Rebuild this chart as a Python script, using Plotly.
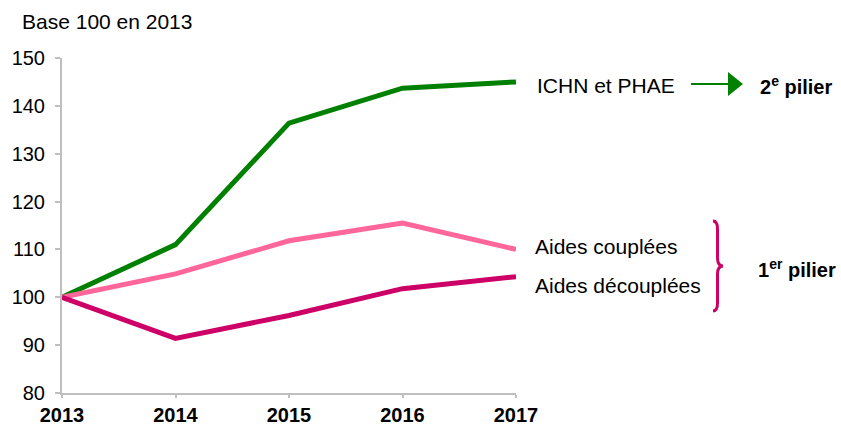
import plotly.graph_objects as go

years = [2013, 2014, 2015, 2016, 2017]
ichn_phae = [100, 111.0, 136.4, 143.7, 145.0]
aides_couplees = [100, 104.9, 111.8, 115.5, 110.0]
aides_decouplees = [100, 91.4, 96.2, 101.8, 104.3]

y_ticks = [80, 90, 100, 110, 120, 130, 140, 150]
x_labels = ["2013", "2014", "2015", "2016", "2017"]

GREEN = "#008000"
PINK = "#FF6699"
MAGENTA = "#CC0066"
AXIS = "#BFBFBF"
FONT = "Liberation Sans, Arial, sans-serif"

W, H = 841, 425
L, R, T, B = 62, 516, 58, 393  # plot area in pixels


def px(x):
    return (x - L) / (R - L)


def py(y):
    return (B - y) / (B - T)


fig = go.Figure()
for name, vals, col in [
    ("ICHN et PHAE", ichn_phae, GREEN),
    ("Aides couplées", aides_couplees, PINK),
    ("Aides découplées", aides_decouplees, MAGENTA),
]:
    fig.add_trace(go.Scatter(x=years, y=vals, mode="lines", name=name,
                             line=dict(color=col, width=5), hoverinfo="skip"))

fig.update_layout(
    width=W, height=H,
    margin=dict(l=L, r=W - R, t=T, b=H - B, pad=0),
    paper_bgcolor="white", plot_bgcolor="white",
    showlegend=False,
    font=dict(family=FONT, size=21, color="#000000"),
)
fig.update_xaxes(range=[2013, 2017], tickvals=years, ticktext=[f"<b>{t}</b>" for t in x_labels],
                 ticks="outside", ticklen=3, tickcolor=AXIS, tickwidth=2,
                 showline=True, linecolor=AXIS, linewidth=2, showgrid=False, zeroline=False,
                 tickfont=dict(size=20), automargin=False, fixedrange=True)
fig.update_yaxes(range=[80, 150], tickvals=y_ticks,
                 ticks="outside", ticklen=5, tickcolor=AXIS, tickwidth=2,
                 showline=True, linecolor=AXIS, linewidth=2, showgrid=False, zeroline=False,
                 tickfont=dict(size=20), ticklabelstandoff=6, automargin=False, fixedrange=True)

ann = []
ann.append(dict(x=px(21), y=py(21), text="Base 100 en 2013"))
ann.append(dict(x=px(536), y=py(85), text="ICHN et PHAE"))
ann.append(dict(x=px(534), y=py(247), text="Aides couplées"))
ann.append(dict(x=px(534), y=py(285), text="Aides découplées"))
ann.append(dict(x=px(759), y=py(85), text="<b>2<sup>e</sup> pilier</b>", font=dict(size=20)))
ann.append(dict(x=px(757), y=py(268), text="<b>1<sup>er</sup> pilier</b>", font=dict(size=20)))
for a in ann:
    a.update(xref="paper", yref="paper", xanchor="left", yanchor="middle",
             showarrow=False, borderpad=0)
    fig.add_annotation(**a)

# arrow
fig.add_shape(type="line", xref="paper", yref="paper",
              x0=px(691), y0=py(84), x1=px(729), y1=py(84),
              line=dict(color=GREEN, width=2))
fig.add_shape(type="path", xref="paper", yref="paper",
              path=f"M {px(728)},{py(72)} L {px(743)},{py(84)} L {px(728)},{py(96)} Z",
              fillcolor=GREEN, line=dict(color=GREEN, width=0))


# brace
def P(x, y):
    return f"{px(x)},{py(y)}"


brace = (f"M {P(713,221)} Q {P(717.5,221)} {P(717.5,229)} L {P(717.5,258)} "
         f"Q {P(717.5,266)} {P(723,266)} Q {P(717.5,266)} {P(717.5,274)} "
         f"L {P(717.5,303)} Q {P(717.5,311)} {P(713,311)}")
fig.add_shape(type="path", xref="paper", yref="paper", path=brace,
              line=dict(color=MAGENTA, width=3))

fig.write_html("out.html", config={"displayModeBar": False},
               post_script="document.body.style.margin='0';document.body.style.overflow='hidden';")
